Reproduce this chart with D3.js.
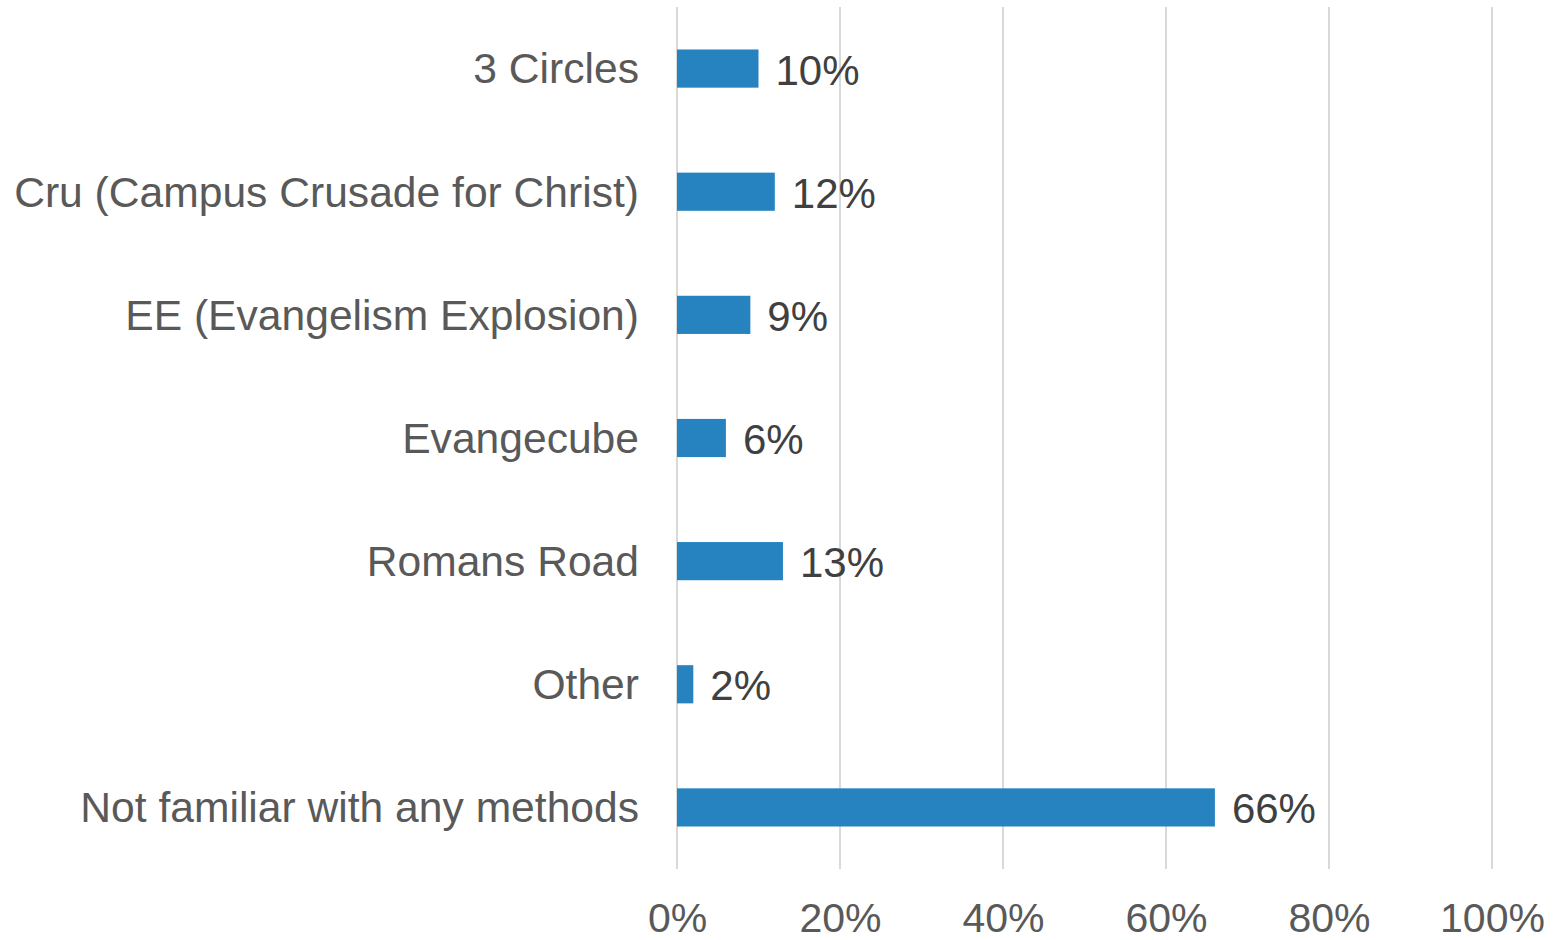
<!DOCTYPE html>
<html>
<head>
<meta charset="utf-8">
<script src="https://cdn.jsdelivr.net/npm/d3@7"></script>
<style>
  html, body { margin: 0; padding: 0; background: #ffffff; }
  svg { display: block; }
  text { font-family: "Liberation Sans", Arial, sans-serif; }
</style>
</head>
<body>
<svg id="chart" width="1554" height="940"></svg>
<script>
const categories = [
  "3 Circles",
  "Cru (Campus Crusade for Christ)",
  "EE (Evangelism Explosion)",
  "Evangecube",
  "Romans Road",
  "Other",
  "Not familiar with any methods"
];
const values = [0.10, 0.12, 0.09, 0.06, 0.13, 0.02, 0.66];
const tickValues = [0, 0.2, 0.4, 0.6, 0.8, 1.0];

const svg = d3.select("#chart");
const margin = { left: 677, right: 62, top: 7, bottom: 71 };
const W = 1554, H = 940;

const x = d3.scaleLinear().domain([0, 1]).range([margin.left, W - margin.right]);
const y = d3.scaleBand().domain(categories).range([margin.top, H - margin.bottom])
  .paddingInner(0.69).paddingOuter(0.345);

const textColor = "#595959";
const fontSize = 42;

// gridlines
svg.append("g").selectAll("line").data(tickValues).join("line")
  .attr("x1", d => x(d)).attr("x2", d => x(d))
  .attr("y1", margin.top).attr("y2", H - margin.bottom)
  .attr("stroke", "#d9d9d9").attr("stroke-width", 2);

// x tick labels
const xAxis = d3.axisBottom(x).tickValues(tickValues).tickFormat(d3.format(".0%")).tickSize(0).tickPadding(0);
const gx = svg.append("g").attr("transform", `translate(0,${H - margin.bottom})`).call(xAxis);
gx.select(".domain").remove();
gx.selectAll("text")
  .attr("y", 0).attr("dy", null)
  .attr("transform", "translate(0,63)")
  .attr("fill", textColor)
  .style("font-size", "41px")
  .style("font-family", '"Liberation Sans", Arial, sans-serif');

// y labels
const yAxis = d3.axisLeft(y).tickSize(0).tickPadding(0);
const gy = svg.append("g").attr("transform", `translate(${margin.left - 38},0)`).call(yAxis);
gy.select(".domain").remove();
gy.selectAll("text")
  .attr("dy", "0.35em")
  .attr("fill", textColor)
  .style("font-size", "42.6px")
  .style("font-family", '"Liberation Sans", Arial, sans-serif');

// bars
const data = categories.map((c, i) => ({ c, v: values[i] }));
svg.append("g").selectAll("rect").data(data).join("rect")
  .attr("x", x(0))
  .attr("y", d => y(d.c))
  .attr("width", d => x(d.v) - x(0))
  .attr("height", y.bandwidth())
  .attr("fill", "#2683c0");

// value labels
svg.append("g").selectAll("text").data(data).join("text")
  .attr("x", d => x(d.v) + 17)
  .attr("y", d => y(d.c) + y.bandwidth() / 2)
  .attr("dy", "0.38em")
  .attr("fill", "#404040")
  .style("font-size", fontSize + "px")
  .text(d => d3.format(".0%")(d.v));
</script>
</body>
</html>
